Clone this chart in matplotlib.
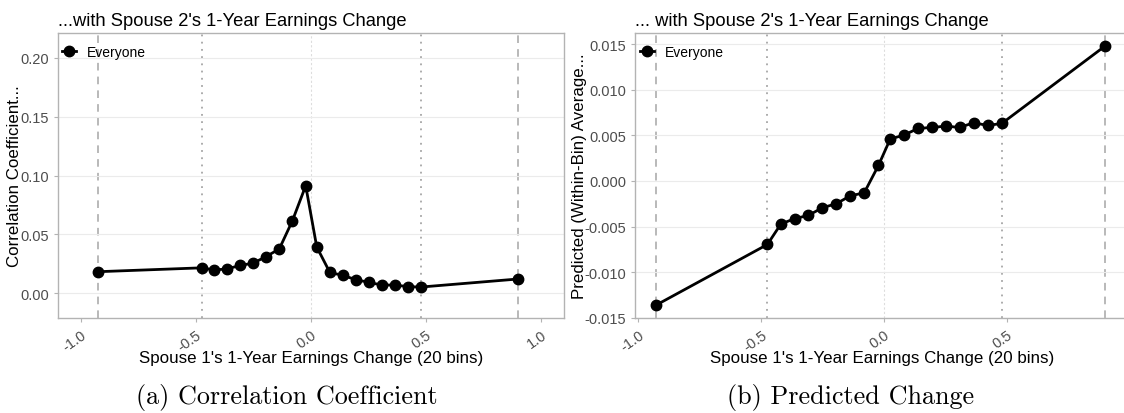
import matplotlib
matplotlib.use("Agg")
import matplotlib.pyplot as plt
from matplotlib.ticker import FormatStrFormatter

plt.rcParams['font.family'] = ['Liberation Sans', 'DejaVu Sans']
plt.rcParams['axes.unicode_minus'] = False

# bin midpoints of spouse 1's earnings change (20 bins)
bins = [-0.927, -0.475, -0.420, -0.364, -0.308, -0.251, -0.195, -0.138, -0.081, -0.023,
        0.025, 0.082, 0.138, 0.196, 0.251, 0.307, 0.365, 0.421, 0.479, 0.899]

corr = [0.0183, 0.0216, 0.0197, 0.0208, 0.0236, 0.0256, 0.0312, 0.0376, 0.0615, 0.0913,
        0.0393, 0.0177, 0.0152, 0.0115, 0.0093, 0.0070, 0.0070, 0.0056, 0.0053, 0.0121]

pred = [-0.01359, -0.00696, -0.00471, -0.00413, -0.00377, -0.00293, -0.00250, -0.00163,
        -0.00130, 0.00170, 0.00460, 0.00504, 0.00576, 0.00587, 0.00601, 0.00587, 0.00638,
        0.00609, 0.00630, 0.01478]

corr_ticks = [0.00, 0.05, 0.10, 0.15, 0.20]
pred_ticks = [-0.015, -0.010, -0.005, 0.000, 0.005, 0.010, 0.015]
x_ticks = [-1.0, -0.5, 0.0, 0.5, 1.0]

xlabel = "Spouse 1's 1-Year Earnings Change (20 bins)"
border = '#b3b3b3'
tick_col = '#4d4d4d'

fig = plt.figure(figsize=(11.24, 4.14), dpi=100)
ax1 = fig.add_axes([58/1124, 95/414, 506/1124, 285/414])
ax2 = fig.add_axes([635/1124, 95/414, 494/1124, 285/414])


def style(ax, y, yticks, xlim, ylim, fmt, title, ylabel, ylab_x, leg_x):
    ax.set_yticks(yticks)
    ax.set_xticks(x_ticks)
    ax.set_xlim(*xlim)
    ax.set_ylim(*ylim)
    ax.yaxis.set_major_formatter(FormatStrFormatter(fmt))
    ax.xaxis.set_major_formatter(FormatStrFormatter('%.1f'))
    ax.grid(axis='y', color='#ebebeb', lw=0.8, zorder=0)
    for s in ax.spines.values():
        s.set_color(border)
        s.set_linewidth(1.0)
    ax.tick_params(colors=border, labelcolor=tick_col, labelsize=10.5, length=3, width=0.8)
    plt.setp(ax.get_xticklabels(), rotation=35, ha='right', va='top', rotation_mode='anchor')

    # reference lines: outer bins dashed, inner cut-offs dotted, zero faint
    ax.axvline(bins[0], color='#a6a6a6', ls=(0, (5, 4)), lw=1.1, zorder=1)
    ax.axvline(bins[-1], color='#a6a6a6', ls=(0, (5, 4)), lw=1.1, zorder=1)
    ax.axvline(bins[1], color='#a6a6a6', ls=(0, (1, 3)), lw=1.3, zorder=1)
    ax.axvline(bins[-2], color='#a6a6a6', ls=(0, (1, 3)), lw=1.3, zorder=1)
    ax.axvline(0.0, color='#dddddd', ls=(0, (2, 2)), lw=0.8, zorder=1)

    ax.plot(bins, y, '-o', color='black', lw=2.0, ms=7.5, zorder=3, label='Everyone')
    ax.legend(loc='center left', bbox_to_anchor=(leg_x, 0.935), frameon=False,
              fontsize=10, handlelength=1.0, handletextpad=0.8,
              borderaxespad=0, borderpad=0)
    ax.set_title(title, loc='left', fontsize=13.2, pad=6)
    ax.set_ylabel(ylabel, fontsize=12.2)
    ax.yaxis.set_label_coords(ylab_x, 0.5)
    ax.set_xlabel(xlabel, fontsize=12.2, labelpad=-2)


style(ax1, corr, corr_ticks, (-1.1, 1.1), (-0.021, 0.221), '%.2f',
      "...with Spouse 2's 1-Year Earnings Change", 'Correlation Coefficient...',
      -0.071, 0.008)
style(ax2, pred, pred_ticks, (-1.014, 0.997), (-0.01502, 0.01622), '%.3f',
      "... with Spouse 2's 1-Year Earnings Change", 'Predicted (Within-Bin) Average...',
      -0.097, 0.01)

fig.text(287/1124, 1 - 398/414, '(a) Correlation Coefficient', family='cmr10',
         fontsize=18.8, ha='center', va='center')
fig.text(851/1124, 1 - 398/414, '(b) Predicted Change', family='cmr10',
         fontsize=18.8, ha='center', va='center')

fig.savefig('out.png', dpi=100)
